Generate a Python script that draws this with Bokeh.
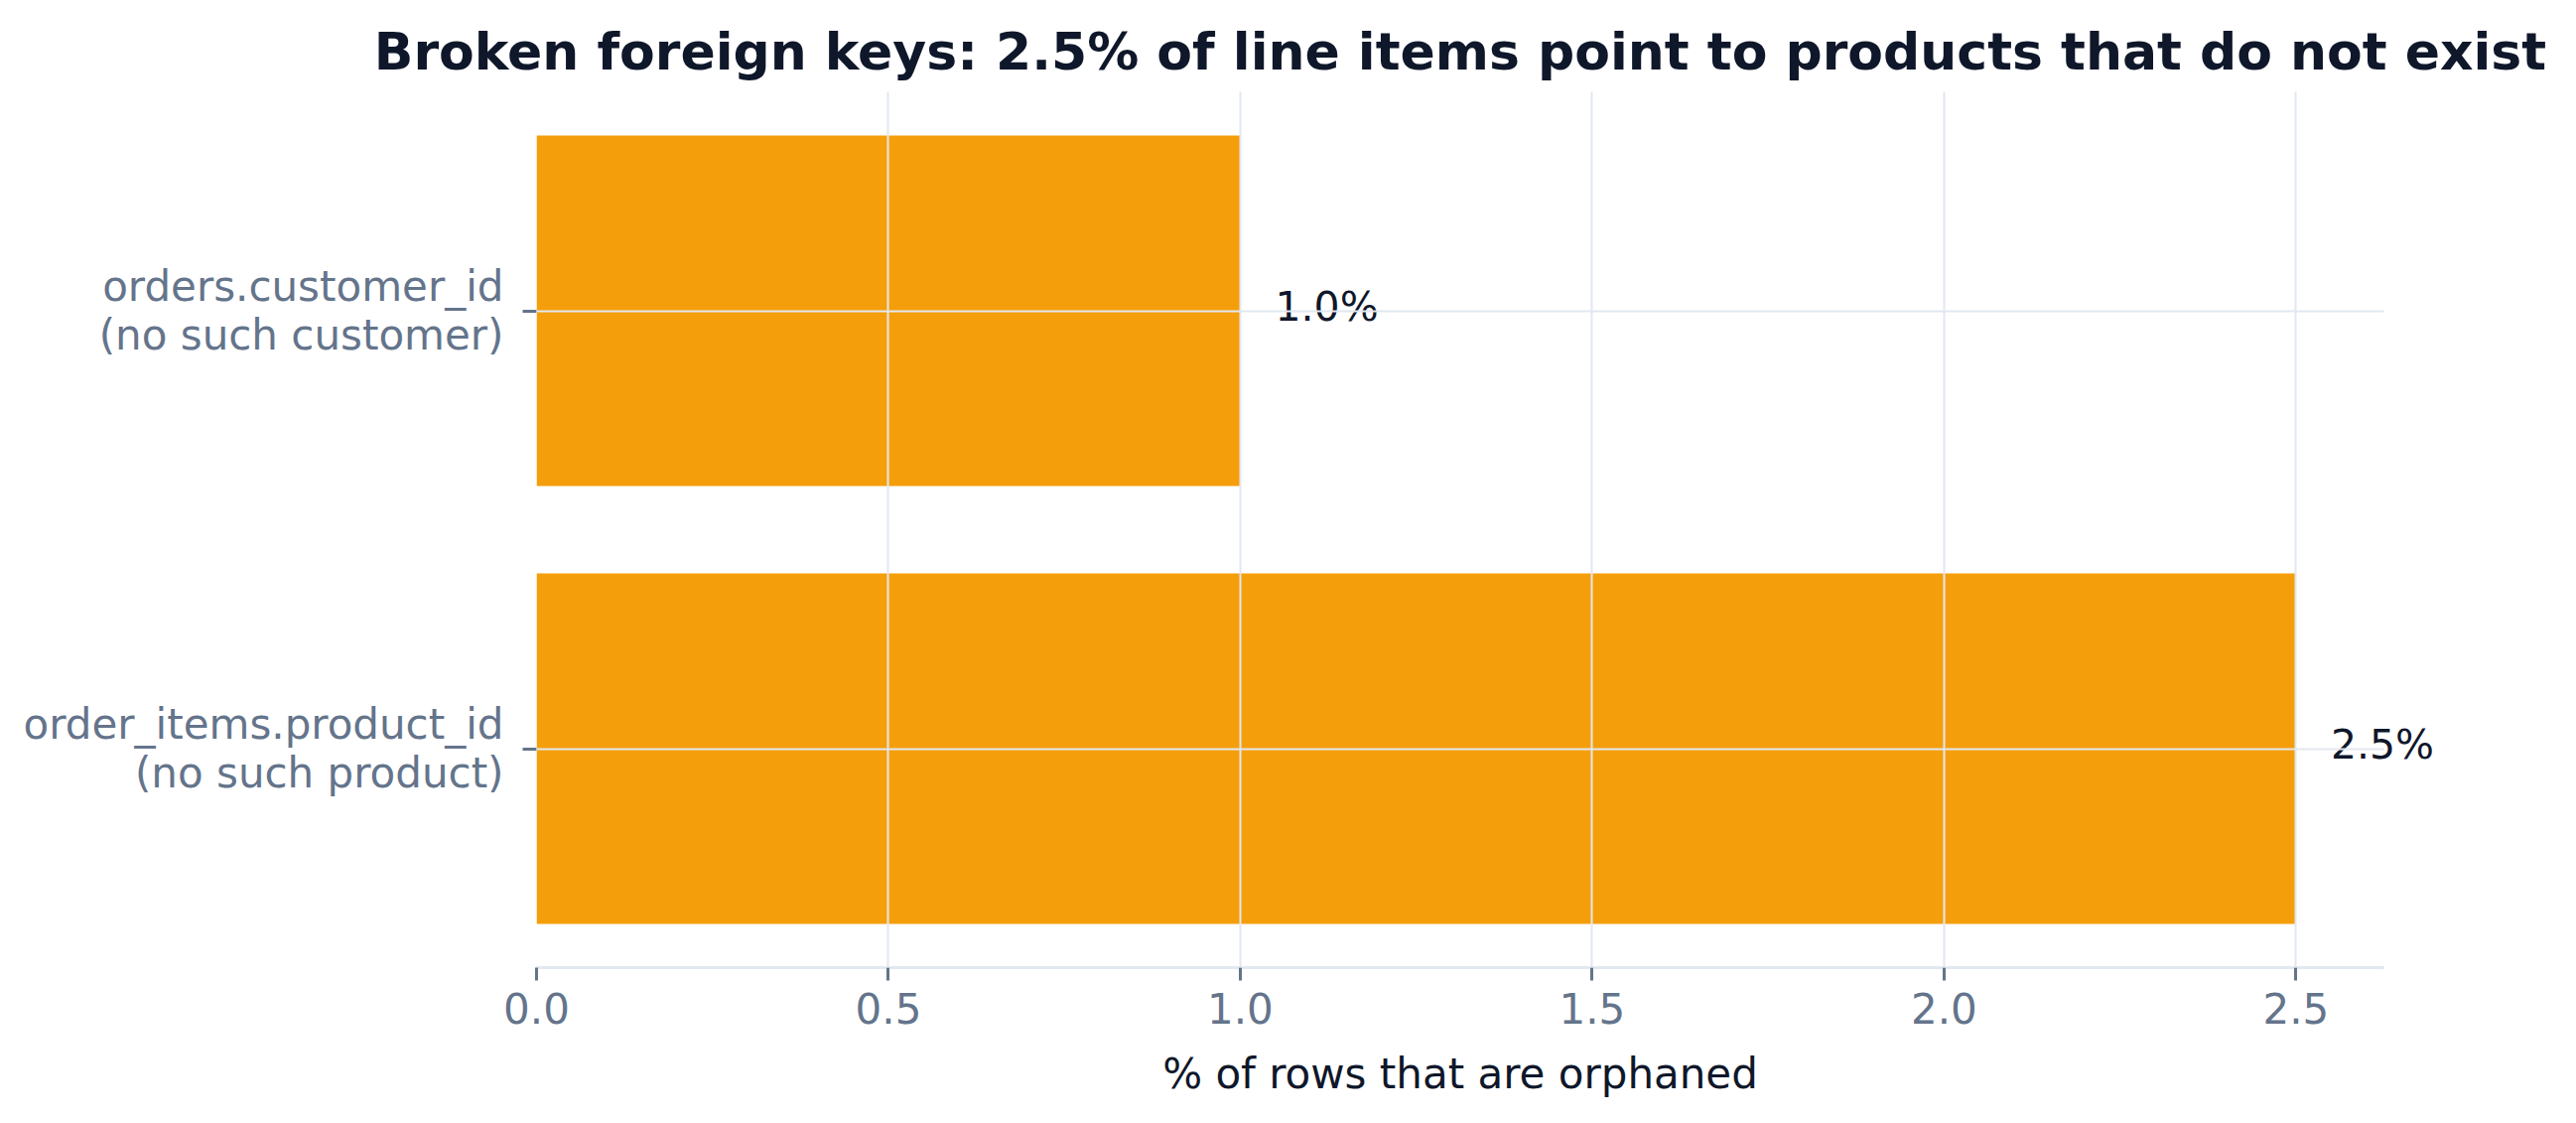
from bokeh.plotting import figure
from bokeh.models import ColumnDataSource, FactorRange, Range1d, SingleIntervalTicker, NumeralTickFormatter
from bokeh.core.properties import value
from bokeh.embed import file_html
from bokeh.resources import INLINE

# data (bottom to top, as bokeh stacks factors upward)
fk_labels = ["order_items.product_id\n(no such product)", "orders.customer_id\n(no such customer)"]
orphan_pct = [2.5, 1.0]
pct_text = ["%.1f%%" % v for v in orphan_pct]

title_text = "Broken foreign keys: 2.5% of line items point to products that do not exist"
x_title = "% of rows that are orphaned"

FONT = "DejaVu Sans"
BAR = "#f59e0b"
SLATE = "#64748b"
DARK = "#0f172a"
GRID = "#e2e8f0"

src = ColumnDataSource(data=dict(fk=fk_labels, pct=orphan_pct, txt=pct_text))

p = figure(width=2579, height=1115, output_backend="svg", toolbar_location=None,
           y_range=FactorRange(factors=fk_labels, range_padding=0),
           x_range=Range1d(0, 2.625), title=title_text,
           min_border_left=540, min_border_right=178, min_border_top=92, min_border_bottom=141)

p.hbar(y="fk", right="pct", height=0.8, source=src, fill_color=BAR, line_color=None)

# value labels; drawn at annotation level so the 2.5% one may run past the frame
p.text(x="pct", y="fk", text="txt", source=src, x_offset=35, y_offset=-4, text_baseline="middle",
       text_font=value(FONT), text_font_size="41px", text_color=DARK, level="annotation")

p.title.text_font = FONT
p.title.text_font_size = "52px"
p.title.text_font_style = "bold"
p.title.text_color = DARK
p.title.align = "center"
p.title.standoff = 21

p.outline_line_color = None
p.background_fill_color = "white"
p.border_fill_color = "white"

# grid on top of bars
for g in (p.xgrid, p.ygrid):
    g.grid_line_color = GRID
    g.grid_line_width = 2
    g.level = "overlay"

p.xaxis.ticker = SingleIntervalTicker(interval=0.5)
p.xaxis.formatter = NumeralTickFormatter(format="0.0")
p.xaxis.axis_label = x_title
p.xaxis.axis_label_text_font = FONT
p.xaxis.axis_label_text_font_size = "42px"
p.xaxis.axis_label_text_font_style = "normal"
p.xaxis.axis_label_text_color = DARK
p.xaxis.axis_label_standoff = 23
p.xaxis.axis_line_color = GRID
p.xaxis.axis_line_width = 3
p.xaxis.major_tick_line_color = SLATE
p.xaxis.major_tick_line_width = 3
p.xaxis.major_tick_in = 0
p.xaxis.major_tick_out = 13
p.xaxis.minor_tick_line_color = None
p.xaxis.major_label_text_font = FONT
p.xaxis.major_label_text_font_size = "42px"
p.xaxis.major_label_text_color = SLATE
p.xaxis.major_label_standoff = 12

p.yaxis.axis_line_color = None
p.yaxis.major_tick_line_color = SLATE
p.yaxis.major_tick_line_width = 3
p.yaxis.major_tick_in = 0
p.yaxis.major_tick_out = 14
p.yaxis.major_label_text_font = FONT
p.yaxis.major_label_text_font_size = "42px"
p.yaxis.major_label_text_color = SLATE
p.yaxis.major_label_text_line_height = 1.0
p.yaxis.major_label_standoff = 19

open("out.html", "w").write(file_html(p, INLINE))
